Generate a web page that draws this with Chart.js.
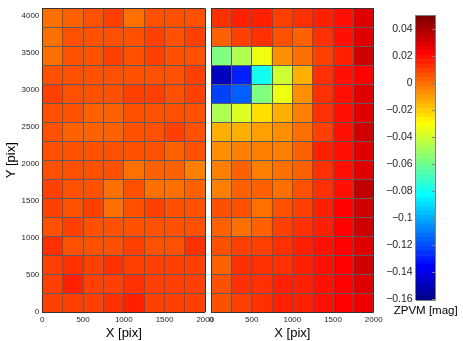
<!DOCTYPE html>
<html><head><meta charset="utf-8">
<script src="https://cdn.jsdelivr.net/npm/chart.js@4"></script>
<style>
html,body{margin:0;padding:0;background:#fff;}
#wrap{position:relative;width:463px;height:341px;overflow:hidden;}
canvas{position:absolute;left:0;top:0;}
</style></head><body>
<div id="wrap">
<canvas id="cL" width="463" height="341"></canvas>
<canvas id="cR" width="463" height="341"></canvas>
<canvas id="cB" width="463" height="341"></canvas>
</div>
<script>
// ---- data ----
const xEdges = [0, 250, 500, 750, 1000, 1250, 1500, 1750, 2000];
const yEdges = [0, 256, 512, 768, 1024, 1280, 1536, 1792, 2048, 2304, 2560, 2816, 3072, 3328, 3584, 3840, 4096];
const xTicks = [0, 500, 1000, 1500, 2000];
const yTicks = [0, 500, 1000, 1500, 2000, 2500, 3000, 3500, 4000];
const cbTicks = [0.04, 0.02, 0, -0.02, -0.04, -0.06, -0.08, -0.1, -0.12, -0.14, -0.16];
const cRange = [-0.1605, 0.0507];
const cbTitle = 'ZPVM [mag]';
// ZPVM [mag] per cell; rows listed from top (Y 3840-4096) down to bottom (Y 0-256)
const zpLeft = [
  [-0.0007, 0.0027, 0.0065, 0.0098, -0.0003, 0.0059, 0.0063, 0.0057],
  [-0.0004, 0.0062, 0.0066, 0.0058, 0.0061, 0.0092, 0.0064, 0.0099],
  [-0.0008, 0.0060, 0.0067, 0.0096, 0.0063, 0.0091, 0.0058, 0.0068],
  [0.0063, 0.0059, 0.0056, 0.0065, 0.0061, 0.0067, 0.0062, 0.0096],
  [0.0099, 0.0065, 0.0060, 0.0063, 0.0093, 0.0097, 0.0059, 0.0092],
  [0.0062, 0.0066, 0.0026, 0.0031, 0.0060, 0.0064, 0.0057, 0.0063],
  [0.0059, 0.0031, 0.0025, 0.0028, 0.0065, 0.0061, 0.0100, 0.0062],
  [0.0058, 0.0064, 0.0061, 0.0066, 0.0060, 0.0057, 0.0030, 0.0063],
  [0.0061, 0.0059, 0.0065, 0.0062, -0.0006, 0.0027, 0.0032, -0.0040],
  [0.0096, 0.0063, 0.0058, -0.0003, 0.0066, -0.0008, -0.0005, 0.0028],
  [0.0093, 0.0060, 0.0098, -0.0007, 0.0064, 0.0095, 0.0062, 0.0058],
  [0.0065, 0.0091, 0.0059, 0.0063, 0.0061, 0.0066, 0.0060, 0.0064],
  [0.0130, 0.0062, 0.0066, 0.0058, 0.0092, 0.0063, 0.0060, 0.0125],
  [0.0097, 0.0126, 0.0094, 0.0131, 0.0091, 0.0098, 0.0093, 0.0096],
  [0.0092, 0.0159, 0.0099, 0.0095, 0.0129, 0.0093, 0.0097, 0.0091],
  [0.0098, 0.0094, 0.0092, 0.0127, 0.0163, 0.0096, 0.0090, 0.0095]
];
const zpRight = [
  [0.0126, 0.0160, 0.0163, 0.0096, 0.0129, 0.0159, 0.0196, 0.0292],
  [0.0030, 0.0093, 0.0130, 0.0062, 0.0027, 0.0127, 0.0192, 0.0295],
  [-0.0568, -0.0465, -0.0334, -0.0073, -0.0004, 0.0096, 0.0162, 0.0325],
  [-0.1493, -0.1290, -0.0795, -0.0402, -0.0135, 0.0129, 0.0195, 0.0228],
  [-0.1228, -0.1157, -0.0564, -0.0336, -0.0070, 0.0126, 0.0193, 0.0294],
  [-0.0469, -0.0366, -0.0237, -0.0138, -0.0036, 0.0129, 0.0195, 0.0292],
  [-0.0136, -0.0139, -0.0103, -0.0072, -0.0006, 0.0094, 0.0194, 0.0328],
  [-0.0070, -0.0036, -0.0039, -0.0037, 0.0030, 0.0160, 0.0196, 0.0291],
  [-0.0039, 0.0028, -0.0035, -0.0006, 0.0031, 0.0127, 0.0193, 0.0295],
  [-0.0037, 0.0030, 0.0027, -0.0004, 0.0062, 0.0130, 0.0192, 0.0358],
  [0.0060, 0.0063, -0.0007, 0.0061, 0.0095, 0.0162, 0.0225, 0.0324],
  [0.0028, -0.0003, 0.0030, 0.0093, 0.0127, 0.0159, 0.0228, 0.0327],
  [0.0062, 0.0095, 0.0092, 0.0129, 0.0161, 0.0194, 0.0227, 0.0293],
  [0.0029, 0.0126, 0.0130, 0.0128, 0.0160, 0.0193, 0.0226, 0.0326],
  [0.0063, 0.0129, 0.0127, 0.0162, 0.0159, 0.0195, 0.0225, 0.0292],
  [0.0061, 0.0096, 0.0128, 0.0160, 0.0163, 0.0193, 0.0227, 0.0260]
];

// ---- colormap (jet, 64 levels) ----
const NLEV = 64;
function u(j){ if(j<0||j>46) return 0; if(j<16) return (j+1)/16; if(j<31) return 1; return (47-j)/16; }
function jetColor(i){ return 'rgb(' + Math.round(u(i-24)*255) + ',' + Math.round(u(i-8)*255) + ',' + Math.round(u(i+8)*255) + ')'; }
function level(v){ const i = Math.floor((v - cRange[0]) / (cRange[1] - cRange[0]) * NLEV); return Math.max(0, Math.min(NLEV-1, i)); }

const FONT = 'Liberation Sans, Arial, Helvetica, sans-serif';
const TXT = '#262626';
const setTicks = arr => s => { s.ticks = arr.map(v => ({value: v})); };
const plain = v => String(v);

function panel(id, vals, padLeft, padRight, showY){
  const nR = yEdges.length - 1;
  const colLabels = xEdges.slice(0, -1).map((x, i) => String((x + xEdges[i+1]) / 2));
  const datasets = vals.map((row, k) => {
    const r = nR - 1 - k;
    return {
      data: row.map(() => [yEdges[r], yEdges[r+1]]),
      backgroundColor: row.map(v => jetColor(level(v))),
      borderWidth: 0, barPercentage: 1, categoryPercentage: 1, grouped: false,
      xAxisID: 'x', yAxisID: 'y'
    };
  });
  const lastX = xEdges.length - 1, lastY = yEdges.length - 1;
  new Chart(document.getElementById(id), {
    type: 'bar',
    data: {labels: colLabels, datasets},
    options: {
      responsive: false, animation: false, events: [],
      layout: {padding: {left: padLeft, right: padRight, top: 8.6, bottom: 0}},
      plugins: {legend: {display: false}, tooltip: {enabled: false}},
      scales: {
        x: {type: 'category', display: false, offset: true},
        y: {type: 'linear', min: 0, max: 4096, display: showY, position: 'left', beginAtZero: false,
            afterFit: s => { s.width = showY ? 42.3 : 0; }, afterBuildTicks: setTicks(yTicks),
            grid: {display: false, drawTicks: false}, border: {display: false},
            ticks: {font: {family: FONT, size: 8}, color: TXT, padding: 3, autoSkip: false, callback: plain},
            title: {display: true, text: 'Y [pix]', font: {family: FONT, size: 13}, color: '#000', padding: {top: 4, bottom: 0}}},
        xt: {type: 'linear', position: 'bottom', min: 0, max: 2000, offset: false,
            afterFit: s => { s.height = 29; }, afterBuildTicks: setTicks(xTicks),
            grid: {display: false, drawTicks: false, offset: false}, border: {display: false},
            ticks: {font: {family: FONT, size: 8}, color: TXT, padding: 3, autoSkip: false, maxRotation: 0, minRotation: 0, callback: plain},
            title: {display: true, text: 'X [pix]', font: {family: FONT, size: 13}, color: '#000', padding: {top: 0, bottom: 0}}},
        xg: {type: 'linear', position: 'bottom', min: 0, max: 2000, offset: false,
            afterFit: s => { s.height = 0; }, afterBuildTicks: setTicks(xEdges),
            ticks: {display: false}, border: {display: false},
            grid: {z: 1, offset: false, drawTicks: false, lineWidth: 1, color: c => (c.index === 0 || c.index === lastX) ? '#333' : '#5c5c5c'}},
        yg: {type: 'linear', position: 'left', min: 0, max: 4096, beginAtZero: false,
            afterFit: s => { s.width = 0; }, afterBuildTicks: setTicks(yEdges),
            ticks: {display: false}, border: {display: false},
            grid: {z: 1, drawTicks: false, lineWidth: 1, color: c => (c.index === 0 || c.index === lastY) ? '#333' : '#5c5c5c'}}
      }
    }
  });
}

panel('cL', zpLeft, 0, 463 - 205.3, true);
panel('cR', zpRight, 211, 463 - 373.7, false);

// ---- colorbar ----
(function(){
  const step = (cRange[1] - cRange[0]) / NLEV;
  const datasets = [];
  for (let i = 0; i < NLEV; i++) {
    datasets.push({data: [[cRange[0] + i*step, cRange[0] + (i+1)*step]], backgroundColor: jetColor(i),
      borderWidth: 0, barPercentage: 1, categoryPercentage: 1, grouped: false, xAxisID: 'x', yAxisID: 'y'});
  }
  const fmt = v => v === 0 ? '0' : (v < 0 ? '\u2212' : '') + String(Math.abs(v));
  new Chart(document.getElementById('cB'), {
    type: 'bar',
    data: {labels: [cbTitle], datasets},
    options: {
      responsive: false, animation: false, events: [],
      layout: {padding: {left: 380, right: 463 - 435.7, top: 15, bottom: 0}},
      plugins: {legend: {display: false}, tooltip: {enabled: false}},
      scales: {
        x: {type: 'category', position: 'bottom', offset: true,
            afterFit: s => { s.height = 41; s.paddingLeft = 0; s.paddingRight = 0; },
            ticks: {display: true, z: 1, font: {family: FONT, size: 11.5}, color: '#000', padding: 4, autoSkip: false, maxRotation: 0, minRotation: 0},
            grid: {display: false, drawTicks: false}, border: {display: false}},
        y: {type: 'linear', position: 'left', min: cRange[0], max: cRange[1], beginAtZero: false,
            afterFit: s => { s.width = 35.7; s.paddingTop = 0; s.paddingBottom = 0; }, afterBuildTicks: setTicks(cbTicks),
            grid: {display: false, drawTicks: false}, border: {display: false},
            ticks: {font: {family: FONT, size: 10.5}, color: TXT, padding: 3, autoSkip: false, callback: v => fmt(v)}},
        yr: {type: 'linear', position: 'right', min: cRange[0], max: cRange[1], beginAtZero: false,
            afterFit: s => { s.width = 0; }, afterBuildTicks: setTicks(cbTicks),
            ticks: {display: false}, border: {display: false},
            grid: {z: 1, drawOnChartArea: false, drawTicks: true, tickLength: -3.5, color: '#808080', lineWidth: 1}},
        fx: {type: 'linear', position: 'bottom', min: 0, max: 1, offset: false,
            afterFit: s => { s.height = 0; }, afterBuildTicks: setTicks([0, 1]),
            ticks: {display: false}, border: {display: false},
            grid: {z: 1, offset: false, drawTicks: false, color: '#808080', lineWidth: 1}},
        fy: {type: 'linear', position: 'left', min: cRange[0], max: cRange[1], beginAtZero: false,
            afterFit: s => { s.width = 0; }, afterBuildTicks: setTicks(cRange),
            ticks: {display: false}, border: {display: false},
            grid: {z: 1, drawTicks: false, color: '#808080', lineWidth: 1}}
      }
    }
  });
})();
</script>
</body></html>
